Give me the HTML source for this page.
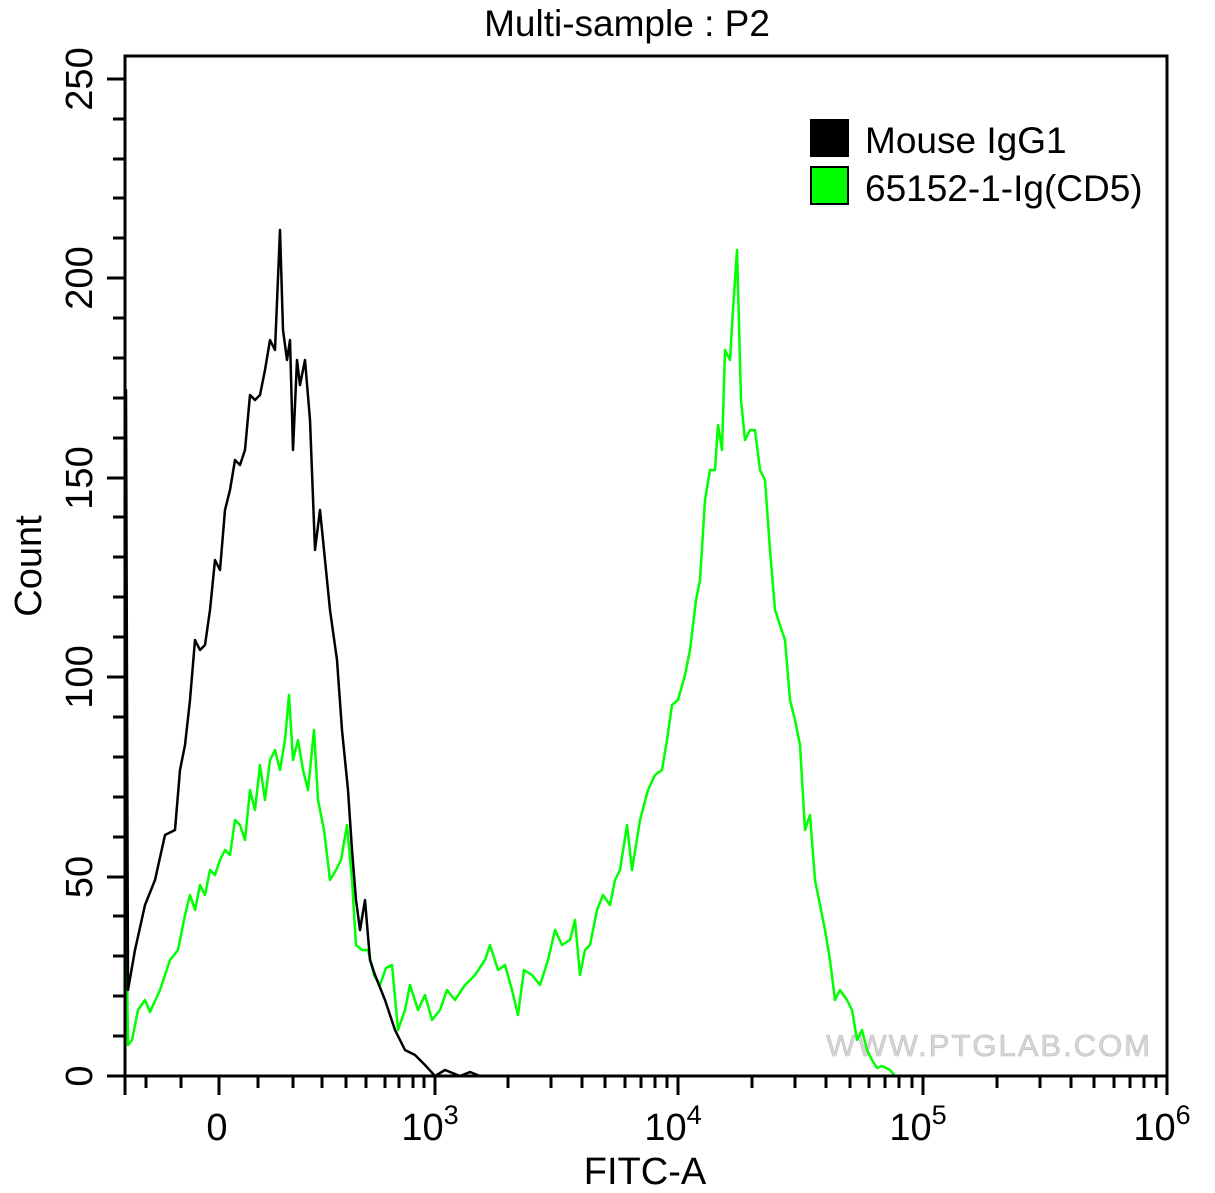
<!DOCTYPE html>
<html><head><meta charset="utf-8"><style>body{margin:0;background:#fff}svg{display:block}</style></head>
<body>
<svg width="1215" height="1193" xmlns="http://www.w3.org/2000/svg" font-family="Liberation Sans, Arial, sans-serif">
<rect width="1215" height="1193" fill="#fff"/>
<text x="627" y="36" font-size="37" text-anchor="middle">Multi-sample : P2</text>
<text x="1152" y="1056" font-size="31" fill="#d6d6d6" stroke="#bbb" stroke-width="0.6" text-anchor="end" letter-spacing="2">WWW.PTGLAB.COM</text>
<g fill="none" stroke-linejoin="round">
<polyline stroke="#00ff00" stroke-width="2.5" points="125,820 128,1045 132,1040 138,1010 145,1000 150,1012 160,990 170,960 178,950 185,915 190,895 195,910 200,885 205,895 210,870 215,875 220,860 225,850 230,855 235,820 240,825 245,840 250,790 255,810 260,765 265,800 270,760 275,750 280,770 285,740 289,695 293,760 298,740 303,770 308,790 314,730 318,800 324,830 330,880 336,870 341,860 347,825 352,880 356,945 362,950 368,950 374,975 380,985 386,968 392,965 398,1030 405,1010 410,985 418,1010 425,995 432,1020 440,1010 447,990 455,1000 465,985 475,975 485,960 490,945 498,970 505,965 512,990 518,1015 524,970 532,975 540,985 548,960 555,930 562,945 570,940 575,920 580,975 585,950 590,945 597,910 603,895 610,905 615,880 620,870 627,825 632,870 640,820 648,790 655,775 662,770 667,740 672,705 678,700 685,675 690,650 696,600 700,580 705,500 710,470 715,470 718,425 722,450 725,350 730,360 733,310 737,250 741,400 745,440 750,430 755,430 760,470 765,480 770,550 775,610 780,625 785,640 790,700 795,720 800,745 805,830 810,815 815,880 820,905 825,930 830,960 835,1000 840,990 847,1000 852,1010 857,1040 862,1030 867,1050 872,1060 877,1068 882,1066 890,1070 895,1076"/>
<polyline stroke="#000" stroke-width="2.5" points="125,1076 126,390 128,990 135,950 145,905 155,880 165,835 175,830 180,770 185,745 190,700 195,640 200,650 205,645 210,610 215,560 220,570 225,510 230,490 235,460 240,465 245,450 250,395 255,400 260,395 265,370 270,340 275,350 280,230 283,330 287,360 290,340 293,450 297,360 300,385 305,360 310,420 315,550 320,510 325,560 330,610 337,660 342,730 348,790 352,850 356,900 360,930 365,900 370,960 375,975 385,1000 395,1030 405,1050 415,1055 425,1065 435,1076 445,1070 460,1076 470,1072 480,1076"/>
</g>
<rect x="125" y="56" width="1042" height="1020" fill="none" stroke="#000" stroke-width="3"/>
<g stroke="#000" stroke-width="3">
<line x1="107" y1="1076" x2="125" y2="1076"/><line x1="107" y1="877" x2="125" y2="877"/><line x1="107" y1="677" x2="125" y2="677"/><line x1="107" y1="478" x2="125" y2="478"/><line x1="107" y1="278" x2="125" y2="278"/><line x1="107" y1="79" x2="125" y2="79"/>
<line x1="113" y1="1036" x2="125" y2="1036"/><line x1="113" y1="996" x2="125" y2="996"/><line x1="113" y1="956" x2="125" y2="956"/><line x1="113" y1="916" x2="125" y2="916"/>
<line x1="113" y1="837" x2="125" y2="837"/><line x1="113" y1="797" x2="125" y2="797"/><line x1="113" y1="757" x2="125" y2="757"/><line x1="113" y1="717" x2="125" y2="717"/>
<line x1="113" y1="637" x2="125" y2="637"/><line x1="113" y1="597" x2="125" y2="597"/><line x1="113" y1="557" x2="125" y2="557"/><line x1="113" y1="517" x2="125" y2="517"/>
<line x1="113" y1="438" x2="125" y2="438"/><line x1="113" y1="398" x2="125" y2="398"/><line x1="113" y1="358" x2="125" y2="358"/><line x1="113" y1="318" x2="125" y2="318"/>
<line x1="113" y1="238" x2="125" y2="238"/><line x1="113" y1="198" x2="125" y2="198"/><line x1="113" y1="159" x2="125" y2="159"/><line x1="113" y1="119" x2="125" y2="119"/>
<line x1="125" y1="1076" x2="125" y2="1095"/><line x1="219" y1="1076" x2="219" y2="1095"/><line x1="435" y1="1076" x2="435" y2="1095"/><line x1="678" y1="1076" x2="678" y2="1095"/><line x1="923" y1="1076" x2="923" y2="1095"/><line x1="1167" y1="1076" x2="1167" y2="1095"/>
<line x1="146" y1="1076" x2="146" y2="1088"/><line x1="181" y1="1076" x2="181" y2="1088"/><line x1="258" y1="1076" x2="258" y2="1088"/><line x1="293" y1="1076" x2="293" y2="1088"/><line x1="322" y1="1076" x2="322" y2="1088"/><line x1="346" y1="1076" x2="346" y2="1088"/><line x1="366" y1="1076" x2="366" y2="1088"/><line x1="385" y1="1076" x2="385" y2="1088"/><line x1="399" y1="1076" x2="399" y2="1088"/><line x1="413" y1="1076" x2="413" y2="1088"/><line x1="424" y1="1076" x2="424" y2="1088"/>
<line x1="508" y1="1076" x2="508" y2="1088"/><line x1="551" y1="1076" x2="551" y2="1088"/><line x1="582" y1="1076" x2="582" y2="1088"/><line x1="605" y1="1076" x2="605" y2="1088"/><line x1="625" y1="1076" x2="625" y2="1088"/><line x1="641" y1="1076" x2="641" y2="1088"/><line x1="655" y1="1076" x2="655" y2="1088"/><line x1="667" y1="1076" x2="667" y2="1088"/>
<line x1="752" y1="1076" x2="752" y2="1088"/><line x1="795" y1="1076" x2="795" y2="1088"/><line x1="826" y1="1076" x2="826" y2="1088"/><line x1="850" y1="1076" x2="850" y2="1088"/><line x1="869" y1="1076" x2="869" y2="1088"/><line x1="885" y1="1076" x2="885" y2="1088"/><line x1="899" y1="1076" x2="899" y2="1088"/><line x1="912" y1="1076" x2="912" y2="1088"/>
<line x1="997" y1="1076" x2="997" y2="1088"/><line x1="1040" y1="1076" x2="1040" y2="1088"/><line x1="1071" y1="1076" x2="1071" y2="1088"/><line x1="1094" y1="1076" x2="1094" y2="1088"/><line x1="1114" y1="1076" x2="1114" y2="1088"/><line x1="1130" y1="1076" x2="1130" y2="1088"/><line x1="1144" y1="1076" x2="1144" y2="1088"/><line x1="1156" y1="1076" x2="1156" y2="1088"/>
</g>
<g font-size="38" text-anchor="middle">
<text transform="translate(92,1076) rotate(-90)">0</text>
<text transform="translate(92,877) rotate(-90)">50</text>
<text transform="translate(92,677) rotate(-90)">100</text>
<text transform="translate(92,478) rotate(-90)">150</text>
<text transform="translate(92,278) rotate(-90)">200</text>
<text transform="translate(92,79) rotate(-90)">250</text>
<text x="217" y="1140">0</text>
<text x="430" y="1140">10<tspan font-size="27" dy="-16">3</tspan></text>
<text x="673" y="1140">10<tspan font-size="27" dy="-16">4</tspan></text>
<text x="918" y="1140">10<tspan font-size="27" dy="-16">5</tspan></text>
<text x="1162" y="1140">10<tspan font-size="27" dy="-16">6</tspan></text>
<text x="645" y="1184">FITC-A</text>
<text transform="translate(41,566) rotate(-90)">Count</text>
</g>
<rect x="810" y="119" width="39" height="38" fill="#000"/>
<rect x="811" y="167" width="37" height="37" fill="#00ff00" stroke="#000" stroke-width="2"/>
<text x="865" y="153" font-size="37">Mouse IgG1</text>
<text x="865" y="201" font-size="37">65152-1-Ig(CD5)</text>
</svg>
</body></html>
